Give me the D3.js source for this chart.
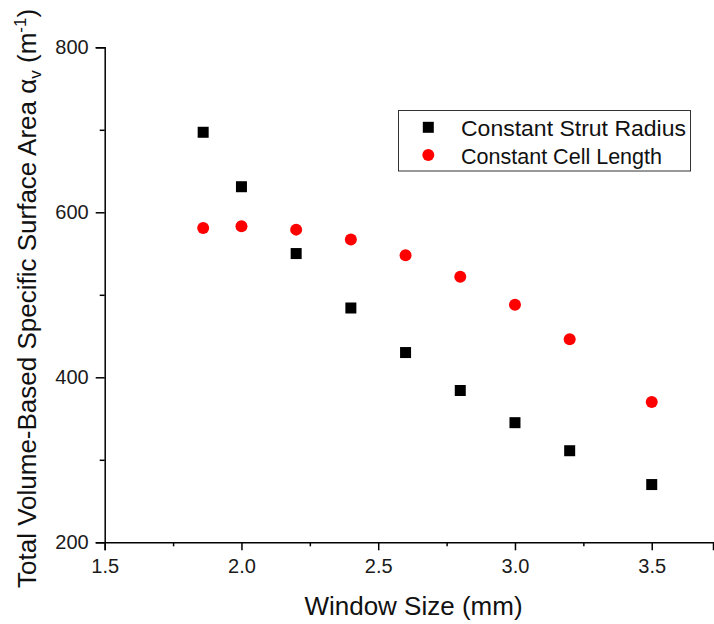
<!DOCTYPE html>
<html>
<head>
<meta charset="utf-8">
<script src="https://cdn.jsdelivr.net/npm/d3@7"></script>
<style>
  html, body { margin: 0; padding: 0; background: #fff; }
  svg { display: block; font-family: "Liberation Sans", Arial, sans-serif; }
</style>
</head>
<body>
<svg id="chart" width="714" height="624"></svg>
<script>
// Window size (mm) for each foam configuration
const windowSize = [1.86, 2.0, 2.2, 2.4, 2.6, 2.8, 3.0, 3.2, 3.5];
// Total volume-based specific surface area (1/m)
const strutRadiusSeries = [697, 631, 550, 484, 430, 384, 345, 311, 270];
const cellLengthSeries  = [581, 583, 579, 567, 548, 522, 488, 446, 370];

const seriesNames = ["Constant Strut Radius", "Constant Cell Length"];
const xTicks = [1.5, 2.0, 2.5, 3.0, 3.5];
const yTicks = [200, 400, 600, 800];

const svg = d3.select("#chart");
const plotLeft = 104.7, plotRight = 713, plotTop = 47.3, plotBottom = 542.3;

const x = d3.scaleLinear().domain([1.5, 3.724]).range([plotLeft, plotRight]);
const y = d3.scaleLinear().domain([200, 800]).range([plotBottom, plotTop]);

// minor ticks
const xMinor = d3.range(1.75, 3.724, 0.5);
const yMinor = [300, 500, 700];

const g = svg.append("g");

// x axis
g.append("g").attr("transform", `translate(0,${plotBottom})`)
  .call(d3.axisBottom(x).tickValues(xTicks).tickFormat(d3.format(".1f")).tickSizeOuter(0).tickSize(8).tickPadding(9));
g.append("g").attr("transform", `translate(0,${plotBottom})`)
  .call(d3.axisBottom(x).tickValues(xMinor).tickFormat("").tickSizeOuter(0).tickSize(4))
  .select(".domain").remove();

// y axis
g.append("g").attr("transform", `translate(${plotLeft},0)`)
  .call(d3.axisLeft(y).tickValues(yTicks).tickFormat(d3.format("d")).tickSizeOuter(0).tickSize(9).tickPadding(7));
g.append("g").attr("transform", `translate(${plotLeft},0)`)
  .call(d3.axisLeft(y).tickValues(yMinor).tickFormat("").tickSizeOuter(0).tickSize(5))
  .select(".domain").remove();

g.selectAll(".domain").attr("stroke", "#000").attr("stroke-width", 1.5);
g.selectAll(".tick line").attr("stroke", "#000").attr("stroke-width", 1.5);
g.selectAll(".tick text").attr("fill", "#1a1a1a").attr("font-size", 20)
  .attr("font-family", "'Liberation Sans', Arial, sans-serif");

// squares: constant strut radius
const sq = 11;
g.selectAll("rect.sr").data(windowSize.map((w, i) => [w, strutRadiusSeries[i]]))
  .join("rect").attr("class", "sr")
  .attr("x", d => x(d[0]) - sq / 2).attr("y", d => y(d[1]) - sq / 2)
  .attr("width", sq).attr("height", sq).attr("fill", "#000");

// circles: constant cell length
g.selectAll("circle.cl").data(windowSize.map((w, i) => [w, cellLengthSeries[i]]))
  .join("circle").attr("class", "cl")
  .attr("cx", d => x(d[0])).attr("cy", d => y(d[1]))
  .attr("r", 6).attr("fill", "#ff0000");

// legend
const lg = svg.append("g");
lg.append("rect").attr("x", 398.5).attr("y", 110.5).attr("width", 292).attr("height", 60.5)
  .attr("fill", "#fff").attr("stroke", "#333").attr("stroke-width", 1);
lg.append("rect").attr("x", 428.3 - 5.5).attr("y", 127.3 - 5.5).attr("width", 11).attr("height", 11).attr("fill", "#000");
lg.append("circle").attr("cx", 428.3).attr("cy", 155).attr("r", 6).attr("fill", "#ff0000");
lg.selectAll("text").data(seriesNames).join("text")
  .attr("x", 461).attr("y", (d, i) => i === 0 ? 135.5 : 163.5)
  .attr("font-size", 22).attr("fill", "#111")
  .attr("textLength", (d, i) => i === 0 ? 225 : 201).attr("lengthAdjust", "spacingAndGlyphs")
  .text(d => d);

// axis titles
svg.append("text").attr("x", 413.5).attr("y", 615).attr("text-anchor", "middle")
  .attr("font-size", 26).attr("fill", "#111").text("Window Size (mm)");

const yt = svg.append("text").attr("transform", "translate(36,588) rotate(-90)")
  .attr("font-size", 26).attr("fill", "#111");
yt.append("tspan").text("Total Volume-Based Specific Surface Area ");
yt.append("tspan").text("α");
yt.append("tspan").attr("font-size", 17).attr("dy", 5).text("v");
yt.append("tspan").attr("dy", -5).text(" (m");
yt.append("tspan").attr("font-size", 17).attr("dy", -10).text("-1");
yt.append("tspan").attr("dy", 10).text(")");
</script>
</body>
</html>
